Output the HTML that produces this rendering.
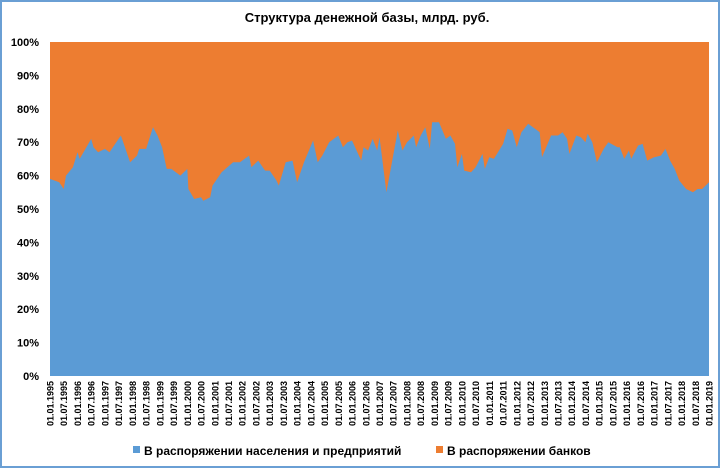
<!DOCTYPE html>
<html><head><meta charset="utf-8">
<style>
body{margin:0;background:#fff;}
#wrap{position:relative;width:720px;height:468px;overflow:hidden;}
svg text{font-family:"Liberation Sans","DejaVu Sans",sans-serif;}
</style></head>
<body>
<div id="wrap">
<svg id="chart" width="720" height="468" xmlns="http://www.w3.org/2000/svg">
<rect x="1" y="1" width="718" height="466" fill="#fff" stroke="#6a9fd4" stroke-width="2"/>
<text x="367" y="22" text-anchor="middle" font-size="13" font-weight="bold" fill="#000">Структура денежной базы, млрд. руб.</text>
<g id="yaxis"></g>
<g id="plot"></g>
<g id="xaxis"></g>
<g>
<g>
<rect x="133" y="446" width="7" height="7" fill="#5b9bd5"/>
<text x="144" y="455" font-size="12" font-weight="bold" fill="#000">В распоряжении населения и предприятий</text>
</g>
<g>
<rect x="436" y="446" width="7" height="7" fill="#ed7d31"/>
<text x="447" y="455" font-size="12" font-weight="bold" fill="#000">В распоряжении банков</text>
</g>
</g>
</svg>
</div>
<script>
// month index since 01.01.1995
const months = [0,4,6,7,10,12,13,18,19,21,24,26,31,35,38,39,42,45,47,49,51,53,57,60,60.5,63,66,67,70,71,75,80,83,87,88,91,94,96,99,100,103,106,108,111,115,117,119,122,126,128,130,132,136,137,139,141,143,144,147,152,154,156,159,160,162,164,166,167,170,173,175,177,178,180,181,184,186,189,190,192,194,198,200,202,204,206,209,213,214,215,219,222,224,226,227,230,232,234,235,237,239,242,244,248,249,251,253,254,257,259,261,264,267,269,271,273,275,278,281,283,285,288];
// share of population and enterprises, %
const popShare = [59,58,56,60,62.5,67,65,71,68.5,67,68,67,72,64,66,68,68,74.5,72,68.5,62,62,60,62,56,53,53.5,52.5,53.5,57,61,64,64,66,62.5,64.5,61.5,61.5,58.5,57,64,64.5,58,64,70.5,64,66,70,72,68.5,70,70.5,64.5,68.5,67.5,71,67.5,71.5,55,73.5,67.5,70,72,68.5,72,74.5,68,76,76,71,72,69.5,62.5,66.5,61.5,61,62.5,66.5,62,65.5,65,69.5,74,73.5,68.5,73,75.5,73.5,73,65.5,72,72,73,71,66.5,72,71.5,70,72.5,70,64,68,70,68.5,68.5,65,67.5,65,69,69.5,64.5,65.5,66,68,64.5,62,58.5,56,55,56,56,58,57];
const yTicks = [0,10,20,30,40,50,60,70,80,90,100];
const xTickLabels = [];
for (let y = 1995; y <= 2019; y++) { xTickLabels.push('01.01.' + y); if (y < 2019) xTickLabels.push('01.07.' + y); }

const X0 = 50, X1 = 709, Y0 = 376, Y1 = 42, MAXM = 288;
const xs = m => X0 + (m / MAXM) * (X1 - X0);
const ys = v => Y0 - (v / 100) * (Y0 - Y1);
const NS = 'http://www.w3.org/2000/svg';

const yg = document.getElementById('yaxis');
yTicks.forEach(t => {
  const tx = document.createElementNS(NS, 'text');
  
  
  tx.setAttribute('x', 39); tx.setAttribute('y', ys(t) + 4);
  tx.setAttribute('text-anchor', 'end'); tx.setAttribute('font-size', '11');
  tx.setAttribute('font-weight', 'bold');
  tx.textContent = t + '%';
  yg.appendChild(tx);
});

const pg = document.getElementById('plot');
const bg = document.createElementNS(NS, 'rect');


bg.setAttribute('x', xs(0)); bg.setAttribute('y', ys(100));
bg.setAttribute('width', xs(MAXM) - xs(0)); bg.setAttribute('height', ys(0) - ys(100));
bg.setAttribute('fill', '#ed7d31');
pg.appendChild(bg);

let d = 'M' + xs(months[0]) + ',' + ys(0);
months.forEach((m, i) => { d += ' L' + xs(m).toFixed(1) + ',' + ys(popShare[i]).toFixed(1); });
d += ' L' + xs(months[months.length - 1]) + ',' + ys(0) + ' Z';
const area = document.createElementNS(NS, 'path');


area.setAttribute('d', d); area.setAttribute('fill', '#5b9bd5');
pg.appendChild(area);

const xg = document.getElementById('xaxis');
xTickLabels.forEach((lab, i) => {
  const x = xs(i * 6);
  const tx = document.createElementNS(NS, 'text');
  
  
  tx.setAttribute('transform', 'translate(' + (x + 3.5) + ',381) rotate(-90)');
  tx.setAttribute('text-anchor', 'end'); tx.setAttribute('font-size', '9');
  tx.setAttribute('font-weight', 'bold');
  tx.textContent = lab;
  xg.appendChild(tx);
});
</script>
</body></html>
